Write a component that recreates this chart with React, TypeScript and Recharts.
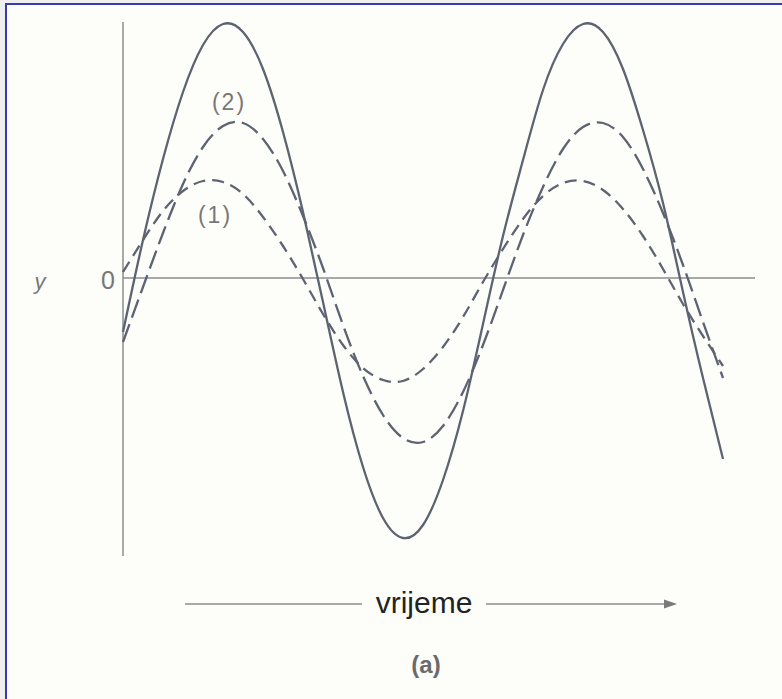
import React from 'react';
import { LineChart, Line, XAxis, YAxis, ReferenceLine } from 'recharts';

// time samples (arbitrary units, left edge of the y axis = 0)
const time = [0, 20, 40, 60, 80, 100, 120, 140, 160, 180, 200, 220, 240, 260, 280, 300, 320, 340, 360, 380, 400, 420, 440, 460, 480, 500, 520, 540, 560, 580, 600];

// wave (1): small dashed
const wave1 = [6, 38, 67, 87, 97, 96, 84, 61, 32, -1, -36, -67, -90, -102, -103, -91, -69, -39, -4, 29, 59, 82, 95, 97, 88, 69, 42, 9, -26, -58, -88];

// wave (2): medium dashed
const wave2 = [-64, -9, 45, 94, 131, 152, 155, 139, 107, 62, 10, -47, -98, -137, -160, -164, -148, -114, -67, -12, 43, 91, 129, 151, 155, 141, 109, 65, 13, -44, -100];

// resulting wave: solid
const waveSum = [-54, 38, 119, 186, 233, 254, 246, 209, 146, 66, -24, -114, -189, -240, -260, -247, -202, -133, -46, 42, 118, 188, 234, 254, 246, 209, 148, 75, -14, -100, -181];

const data = time.map((t, i) => ({ t, w1: wave1[i], w2: wave2[i], sum: waveSum[i] }));

const lineColor = '#5e6372';
const axisColor = '#8c8c8c';

const label = (left: number, top: number, text: string, style: React.CSSProperties = {}) => (
  <div
    style={{
      position: 'absolute',
      left,
      top,
      transform: 'translate(-50%, -50%)',
      fontFamily: '"Liberation Sans", Arial, sans-serif',
      color: '#777',
      whiteSpace: 'nowrap',
      lineHeight: 1,
      ...style,
    }}
  >
    {text}
  </div>
);

const App = () => {
  return (
    <div style={{ position: 'absolute', left: 0, top: 0, width: 782, height: 699, background: '#efefef', overflow: 'hidden' }}>
      <div
        style={{
          position: 'absolute',
          left: 5,
          top: 3,
          width: 777,
          height: 696,
          boxSizing: 'border-box',
          borderLeft: '2px solid #3a3ab0',
          borderTop: '2px solid #3a3ab0',
          background: '#fdfdf9',
        }}
      />
      <div style={{ position: 'absolute', left: 0, top: 0 }}>
        <LineChart width={782} height={699} data={data} margin={{ top: 22, right: 27, bottom: 143, left: 123 }}>
          <XAxis dataKey="t" type="number" domain={[0, 632]} hide />
          <YAxis type="number" domain={[-278, 256]} hide />
          <ReferenceLine x={0} stroke={axisColor} strokeWidth={1.5} />
          <ReferenceLine y={0} stroke={axisColor} strokeWidth={1.5} />
          <Line type="natural" dataKey="w1" stroke={lineColor} strokeWidth={2.3} strokeDasharray="12 7" dot={false} isAnimationActive={false} />
          <Line type="natural" dataKey="w2" stroke={lineColor} strokeWidth={2.3} strokeDasharray="19 7" dot={false} isAnimationActive={false} />
          <Line type="natural" dataKey="sum" stroke={lineColor} strokeWidth={2.3} dot={false} isAnimationActive={false} />
        </LineChart>
      </div>

      {label(40, 282, 'y', { fontSize: 22, fontStyle: 'italic' })}
      {label(108, 280, '0', { fontSize: 25 })}
      {label(229, 102, '(2)', { fontSize: 23, letterSpacing: 2 })}
      {label(215, 215, '(1)', { fontSize: 23, letterSpacing: 2 })}

      <svg style={{ position: 'absolute', left: 0, top: 0 }} width={782} height={699}>
        <line x1={185} y1={604} x2={362} y2={604} stroke={axisColor} strokeWidth={1.5} />
        <line x1={486} y1={604} x2={666} y2={604} stroke={axisColor} strokeWidth={1.5} />
        <polygon points="677,604 664,599.5 664,608.5" fill="#7a7a7a" />
      </svg>

      {label(424, 603, 'vrijeme', { fontSize: 30, color: '#222' })}
      {label(426, 665, '(a)', { fontSize: 24, fontWeight: 'bold', color: '#6a6a6a' })}
    </div>
  );
};

export default App;
